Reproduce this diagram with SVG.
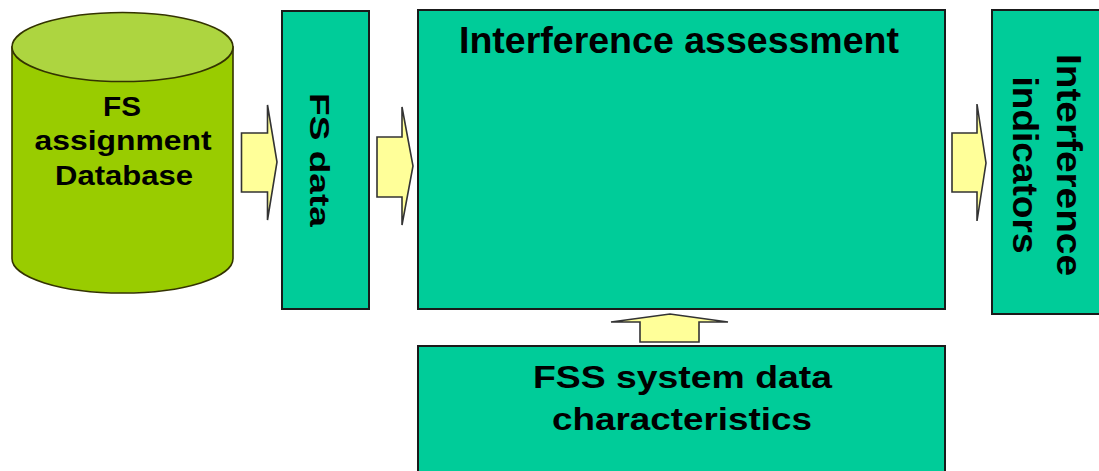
<svg xmlns="http://www.w3.org/2000/svg" width="1099" height="471" viewBox="0 0 1099 471">
  <style>
    .box { fill: #00cc99; stroke: #1a1a1a; stroke-width: 2; }
    .cyl { fill: #99cc00; stroke: #333300; stroke-width: 1.6; }
    .cyl-top { fill: #add540; stroke: #333300; stroke-width: 1.6; }
    .arrow { fill: #ffff99; stroke: #333333; stroke-width: 1.6; stroke-linejoin: miter; }
    .lbl { font-family: "Liberation Sans", Arial, sans-serif; font-weight: bold; fill: #000000; text-anchor: middle; }
  </style>
  <rect width="1099" height="471" fill="#ffffff"/>

  <!-- database cylinder -->
  <g id="fs-assignment-db">
    <path class="cyl" d="M12,47 L12,258.5 A110.5,34.5 0 0 0 233,258.5 L233,47 Z"/>
    <ellipse class="cyl-top" cx="122.5" cy="47" rx="110.5" ry="34.5"/>
    <text class="lbl" font-size="28" x="122" y="116" textLength="38" lengthAdjust="spacingAndGlyphs">FS</text>
    <text class="lbl" font-size="28" x="123" y="150" textLength="177" lengthAdjust="spacingAndGlyphs">assignment</text>
    <text class="lbl" font-size="28" x="124" y="185" textLength="138" lengthAdjust="spacingAndGlyphs">Database</text>
  </g>

  <g id="fs-data">
    <rect class="box" x="282" y="11" width="87" height="298"/>
    <text class="lbl" font-size="28" transform="translate(310,160) rotate(90)" x="0" y="0" textLength="134" lengthAdjust="spacingAndGlyphs">FS data</text>
  </g>

  <g id="interference-assessment">
    <rect class="box" x="418" y="10" width="527" height="299"/>
    <text class="lbl" font-size="36" x="679" y="53" textLength="440" lengthAdjust="spacingAndGlyphs">Interference assessment</text>
  </g>

  <g id="interference-indicators">
    <rect class="box" x="992" y="10" width="120" height="304"/>
    <g transform="translate(1057,165) rotate(90)">
      <text class="lbl" font-size="35" x="0" y="0" textLength="222" lengthAdjust="spacingAndGlyphs">Interference</text>
      <text class="lbl" font-size="35" x="0" y="44" textLength="177" lengthAdjust="spacingAndGlyphs">indicators</text>
    </g>
  </g>

  <g id="fss-system-data">
    <rect class="box" x="418" y="346" width="527" height="140"/>
    <text class="lbl" font-size="31" x="682.5" y="388" textLength="299" lengthAdjust="spacingAndGlyphs">FSS system data</text>
    <text class="lbl" font-size="31" x="682" y="430" textLength="260" lengthAdjust="spacingAndGlyphs">characteristics</text>
  </g>

  <!-- block arrows between the stages -->
  <g id="connectors">
    <polygon class="arrow" points="241.5,133 267.5,133 267.5,105 277,162 267.5,220 267.5,192 241.5,192"/>
    <polygon class="arrow" points="377,137 402,137 402,107 413,166 402,225 402,197 377,197"/>
    <polygon class="arrow" points="952,133 977,133 977,104 986,163 977,221 977,192 952,192"/>
    <polygon class="arrow" points="640,342 640,322 611,322 670,314 728,322 699,322 699,342"/>
  </g>
</svg>
